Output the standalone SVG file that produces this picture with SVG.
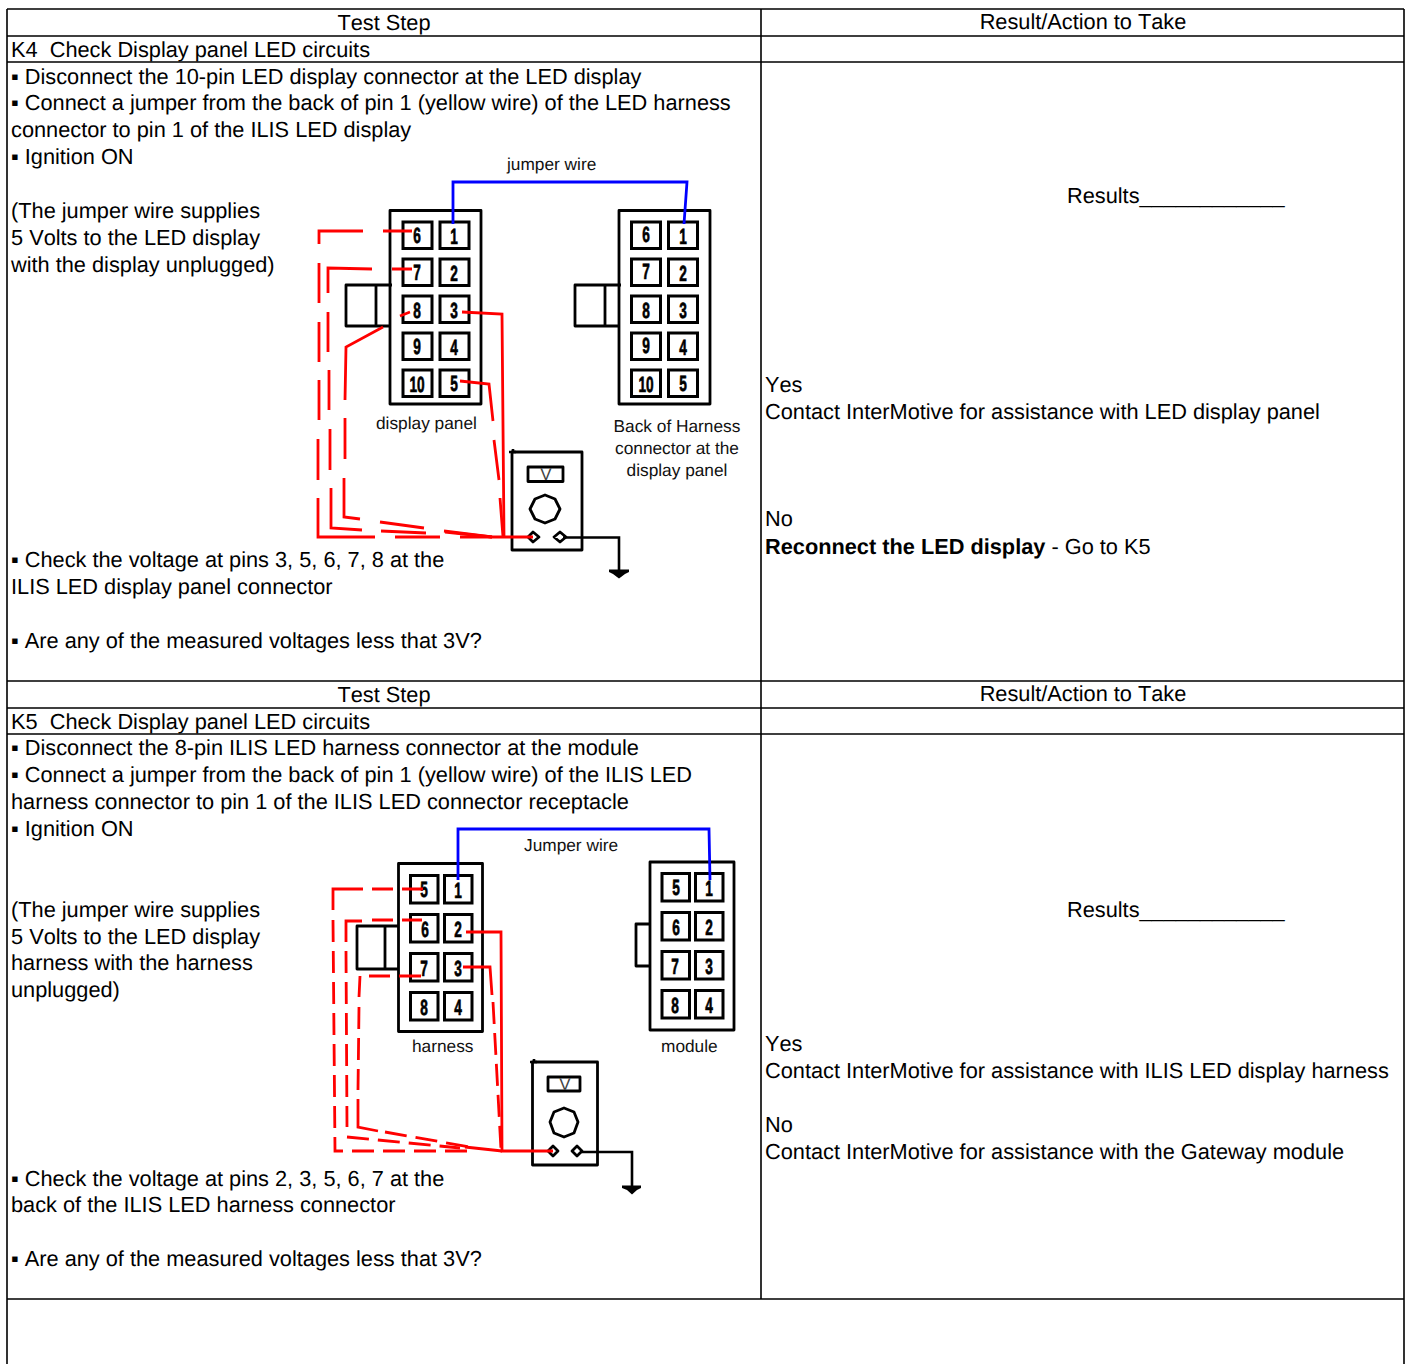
<svg xmlns="http://www.w3.org/2000/svg" width="1405" height="1364" viewBox="0 0 1405 1364">
<style>
text{font-family:"Liberation Sans",Arial,sans-serif;fill:#000;font-kerning:none;text-rendering:geometricPrecision}
.t{font-size:21.76px}
.s{font-size:17.3px;fill:#111}
.m{text-anchor:middle}
.grid{stroke:#000;stroke-width:1.6;fill:none}
.b{fill:none;stroke:#000;stroke-width:2.8;stroke-linejoin:round}
.w{fill:none;stroke:#000;stroke-width:2.6}
.p{fill:none;stroke:#000;stroke-width:3}
.d{font-size:22px;font-weight:bold;text-anchor:middle;stroke:#000;stroke-width:.7}
.r{fill:none;stroke:#f00;stroke-width:2.8}
.rd{fill:none;stroke:#f00;stroke-width:2.8;stroke-dasharray:22 9}
.j{fill:none;stroke:#00f;stroke-width:2.8}
.v{font-size:17px;text-anchor:middle;fill:#444}
</style>
<g id="table">
<path class="grid" d="M7 9H1404M7 36H1404M7 62H1404M7 681H1404M7 708H1404M7 734H1404M7 1299H1404M7 9V1364M761 9V1299M1404 9V1364"/>
</g>
<g id="k4-text">
<text class="t m" x="384" y="30">Test Step</text>
<text class="t m" x="1083" y="29">Result/Action to Take</text>
<text class="t" x="11" y="57" xml:space="preserve">K4  Check Display panel LED circuits</text>
<text class="t" x="11" y="84">▪ Disconnect the 10-pin LED display connector at the LED display</text>
<text class="t" x="11" y="110">▪ Connect a jumper from the back of pin 1 (yellow wire) of the LED harness</text>
<text class="t" x="11" y="137">connector to pin 1 of the ILIS LED display</text>
<text class="t" x="11" y="164">▪ Ignition ON</text>
<text class="t" x="11" y="218">(The jumper wire supplies</text>
<text class="t" x="11" y="245">5 Volts to the LED display</text>
<text class="t" x="11" y="272">with the display unplugged)</text>
<text class="t" x="11" y="567">▪ Check the voltage at pins 3, 5, 6, 7, 8 at the</text>
<text class="t" x="11" y="594">ILIS LED display panel connector</text>
<text class="t" x="11" y="648">▪ Are any of the measured voltages less that 3V?</text>
<text class="t" x="1067" y="203">Results____________</text>
<text class="t" x="765" y="392">Yes</text>
<text class="t" x="765" y="419">Contact InterMotive for assistance with LED display panel</text>
<text class="t" x="765" y="526">No</text>
<text class="t" x="765" y="554"><tspan font-weight="bold">Reconnect the LED display</tspan> - Go to K5</text>
<text class="s" x="507" y="170">jumper wire</text>
<text class="s" x="376" y="429">display panel</text>
<text class="s m" x="677" y="432">Back of Harness</text>
<text class="s m" x="677" y="454">connector at the</text>
<text class="s m" x="677" y="476">display panel</text>
</g>
<g id="k4-display-panel">
<rect class="b" x="390" y="210.500" width="91" height="193.500"/>
<path class="b" d="M392 285H346V326H390M376 285V326"/>
<g id="k4-dp-pins">
<rect class="p" x="403" y="222" width="29" height="26.500"/><rect class="p" x="440" y="222" width="29" height="26.500"/>
<rect class="p" x="403" y="259" width="29" height="26.500"/><rect class="p" x="440" y="259" width="29" height="26.500"/>
<rect class="p" x="403" y="296" width="29" height="26.500"/><rect class="p" x="440" y="296" width="29" height="26.500"/>
<rect class="p" x="403" y="333" width="29" height="26.500"/><rect class="p" x="440" y="333" width="29" height="26.500"/>
<rect class="p" x="403" y="370" width="29" height="26.500"/><rect class="p" x="440" y="370" width="29" height="26.500"/>
<text class="d" transform="translate(417 243) scale(.62 1)">6</text><text class="d" transform="translate(454 244) scale(.62 1)">1</text>
<text class="d" transform="translate(417 280) scale(.62 1)">7</text><text class="d" transform="translate(454 281) scale(.62 1)">2</text>
<text class="d" transform="translate(417 318) scale(.62 1)">8</text><text class="d" transform="translate(454 318) scale(.62 1)">3</text>
<text class="d" transform="translate(417 354) scale(.62 1)">9</text><text class="d" transform="translate(454 355) scale(.62 1)">4</text>
<text class="d" transform="translate(417 392) scale(.62 1)">10</text><text class="d" transform="translate(454 391) scale(.62 1)">5</text>
</g>
</g>
<g id="k4-harness">
<rect class="b" x="619" y="210.500" width="91" height="193.500"/>
<path class="b" d="M621 285H575V326H619M605 285V326"/>
<g id="k4-h-pins">
<rect class="p" x="631.500" y="222" width="29" height="26.500"/><rect class="p" x="668.500" y="222" width="29" height="26.500"/>
<rect class="p" x="631.500" y="259" width="29" height="26.500"/><rect class="p" x="668.500" y="259" width="29" height="26.500"/>
<rect class="p" x="631.500" y="296" width="29" height="26.500"/><rect class="p" x="668.500" y="296" width="29" height="26.500"/>
<rect class="p" x="631.500" y="333" width="29" height="26.500"/><rect class="p" x="668.500" y="333" width="29" height="26.500"/>
<rect class="p" x="631.500" y="370" width="29" height="26.500"/><rect class="p" x="668.500" y="370" width="29" height="26.500"/>
<text class="d" transform="translate(646 242) scale(.62 1)">6</text><text class="d" transform="translate(683 244) scale(.62 1)">1</text>
<text class="d" transform="translate(646 279) scale(.62 1)">7</text><text class="d" transform="translate(683 281) scale(.62 1)">2</text>
<text class="d" transform="translate(646 318) scale(.62 1)">8</text><text class="d" transform="translate(683 318) scale(.62 1)">3</text>
<text class="d" transform="translate(646 353) scale(.62 1)">9</text><text class="d" transform="translate(683 355) scale(.62 1)">4</text>
<text class="d" transform="translate(646 392) scale(.62 1)">10</text><text class="d" transform="translate(683 391) scale(.62 1)">5</text>
</g>
</g>
<g id="k4-meter">
<rect class="b" x="512" y="452" width="70" height="98"/>
<path class="w" d="M509 452H516M513 449V453"/>
<rect class="b" x="528" y="467" width="35" height="14.500"/>
<text class="v" x="546" y="480">V</text>
<polygon class="b" points="545,495 555,499 560,509 555,519 545,523 535,519 530,509 535,499"/>
<polygon class="b" points="533,532 539,537 533,542 528,537"/>
<polygon class="b" points="560,532 566,537 560,542 554,537"/>
<path class="w" d="M563 537.500H619V572"/>
<path d="M609 569.500H629V572L625 574L619 578.500L613 574L609 572Z" fill="#000"/>
</g>
<g id="k5-text">
<text class="t m" x="384" y="702">Test Step</text>
<text class="t m" x="1083" y="701">Result/Action to Take</text>
<text class="t" x="11" y="729" xml:space="preserve">K5  Check Display panel LED circuits</text>
<text class="t" x="11" y="755">▪ Disconnect the 8-pin ILIS LED harness connector at the module</text>
<text class="t" x="11" y="782">▪ Connect a jumper from the back of pin 1 (yellow wire) of the ILIS LED</text>
<text class="t" x="11" y="809">harness connector to pin 1 of the ILIS LED connector receptacle</text>
<text class="t" x="11" y="836">▪ Ignition ON</text>
<text class="t" x="11" y="917">(The jumper wire supplies</text>
<text class="t" x="11" y="944">5 Volts to the LED display</text>
<text class="t" x="11" y="970">harness with the harness</text>
<text class="t" x="11" y="997">unplugged)</text>
<text class="t" x="11" y="1186">▪ Check the voltage at pins 2, 3, 5, 6, 7 at the</text>
<text class="t" x="11" y="1212">back of the ILIS LED harness connector</text>
<text class="t" x="11" y="1266">▪ Are any of the measured voltages less that 3V?</text>
<text class="t" x="1067" y="917">Results____________</text>
<text class="t" x="765" y="1051">Yes</text>
<text class="t" x="765" y="1078">Contact InterMotive for assistance with ILIS LED display harness</text>
<text class="t" x="765" y="1132">No</text>
<text class="t" x="765" y="1159">Contact InterMotive for assistance with the Gateway module</text>
<text class="s" x="524" y="851">Jumper wire</text>
<text class="s" x="412" y="1052">harness</text>
<text class="s" x="661" y="1052">module</text>
</g>
<g id="k5-harness">
<rect class="b" x="398.500" y="863.500" width="84" height="168"/>
<path class="b" d="M398 926H357V969H398M385 926V969"/>
<g id="k5-h-pins">
<rect class="p" x="410.500" y="875.500" width="27.500" height="27.500"/><rect class="p" x="444.500" y="875.500" width="27.500" height="27.500"/>
<rect class="p" x="410.500" y="914.500" width="27.500" height="27.500"/><rect class="p" x="444.500" y="914.500" width="27.500" height="27.500"/>
<rect class="p" x="410.500" y="953.500" width="27.500" height="27.500"/><rect class="p" x="444.500" y="953.500" width="27.500" height="27.500"/>
<rect class="p" x="410.500" y="992.500" width="27.500" height="27.500"/><rect class="p" x="444.500" y="992.500" width="27.500" height="27.500"/>
<text class="d" transform="translate(424 897) scale(.62 1)">5</text><text class="d" transform="translate(458 898) scale(.62 1)">1</text>
<text class="d" transform="translate(425 937) scale(.62 1)">6</text><text class="d" transform="translate(458 937) scale(.62 1)">2</text>
<text class="d" transform="translate(424 976) scale(.62 1)">7</text><text class="d" transform="translate(458 976) scale(.62 1)">3</text>
<text class="d" transform="translate(424 1015) scale(.62 1)">8</text><text class="d" transform="translate(458 1015) scale(.62 1)">4</text>
</g>
</g>
<g id="k5-module">
<rect class="b" x="650" y="862" width="84" height="168"/>
<path class="b" d="M650 924H636V966H650"/>
<g id="k5-m-pins">
<rect class="p" x="662" y="873.500" width="27.500" height="27.500"/><rect class="p" x="695.500" y="873.500" width="27.500" height="27.500"/>
<rect class="p" x="662" y="912.500" width="27.500" height="27.500"/><rect class="p" x="695.500" y="912.500" width="27.500" height="27.500"/>
<rect class="p" x="662" y="951.500" width="27.500" height="27.500"/><rect class="p" x="695.500" y="951.500" width="27.500" height="27.500"/>
<rect class="p" x="662" y="990.500" width="27.500" height="27.500"/><rect class="p" x="695.500" y="990.500" width="27.500" height="27.500"/>
<text class="d" transform="translate(676 895) scale(.62 1)">5</text><text class="d" transform="translate(709 896) scale(.62 1)">1</text>
<text class="d" transform="translate(676 935) scale(.62 1)">6</text><text class="d" transform="translate(709 935) scale(.62 1)">2</text>
<text class="d" transform="translate(675 974) scale(.62 1)">7</text><text class="d" transform="translate(709 974) scale(.62 1)">3</text>
<text class="d" transform="translate(675 1013) scale(.62 1)">8</text><text class="d" transform="translate(709 1013) scale(.62 1)">4</text>
</g>
</g>
<g id="k5-meter">
<rect class="b" x="532.500" y="1062" width="65" height="103"/>
<path class="w" d="M530 1062H537M534 1059V1063"/>
<rect class="b" x="548" y="1077" width="32" height="14"/>
<text class="v" x="565" y="1090">V</text>
<polygon class="b" points="564,1108 574,1112 578,1122 574,1133 564,1137 554,1133 550,1122 554,1112"/>
<polygon class="b" points="553,1146 558,1151 553,1156 548,1151"/>
<polygon class="b" points="577,1146 582,1151 577,1156 572,1151"/>
<path class="w" d="M580 1152H632V1188"/>
<path d="M622 1185.500H641V1188L637 1190L632 1194.500L627 1190L622 1188Z" fill="#000"/>
</g>
<g id="connectors">
<path class="j" d="M453 224V182H687L684 224"/>
<path class="j" d="M458 880V829H709L710 880"/>
<path class="r" d="M319 244V231H363M383 231H412M319 263V303M319 322V362M319 380V420M318 439V480M318 498V537H375M395 537H440M460 537H533"/>
<path class="r" d="M328 293V268L372 269M392 269H412M328 312V352M329 370V410M330 429V470M331 488V528L362 530M381 531L426 533M444 531L492 537"/>
<path class="r" d="M400 316L410 312M383 327L346 347L345 400M345 418V459M344 478V517L360 519M380 522L424 528M445 532L492 537"/>
<path class="r" d="M462 312L502 314L504 537"/>
<path class="r" d="M460 381L489 384L493 421M494 440L499 480M500 498L503 537"/>
<path class="r" d="M333 910V889H363M372 889H393M402 889H423"/>
<path class="rd" d="M333 920L335 1151H470"/>
<path class="r" d="M346 942V921H362M372 920H393M402 920H422"/>
<path class="rd" d="M346 951L347 1127"/>
<path class="rd" d="M347 1137L460 1148"/>
<path class="r" d="M421 976H399M390 976H369M360 976L359 997"/>
<path class="rd" d="M359 1007L358 1090"/>
<path class="r" d="M358 1099V1127L378 1131"/>
<path class="rd" d="M385 1132L470 1147"/>
<path class="r" d="M466 932H501L502 1151H553M463 967H490L492 995"/>
<path class="rd" d="M493 1002L501 1150"/>
<path class="r" d="M465 1147L502 1151"/>
</g>
</svg>
